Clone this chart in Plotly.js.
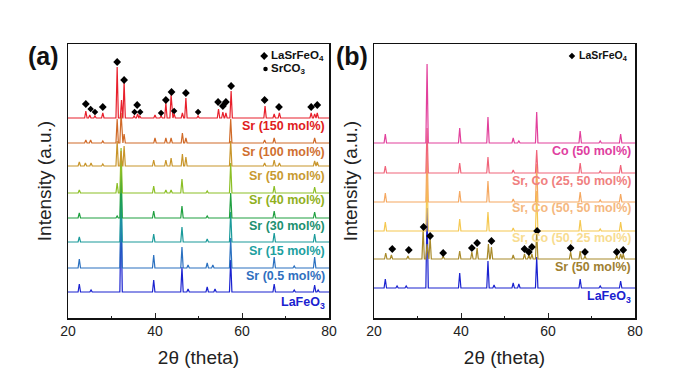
<!DOCTYPE html>
<html><head><meta charset="utf-8">
<script src="https://cdn.plot.ly/plotly-3.0.1.min.js"></script>
<style>html,body{margin:0;padding:0;background:#fff}#c{width:690px;height:384px}</style>
</head><body><div id="c"></div>
<script>
// ---------- Panel (a) data: peak positions (2θ) and heights, per sample ----------
const namesA = ["LaFeO<sub>3</sub>","Sr (0.5 mol%)","Sr (15 mol%)","Sr (30 mol%)","Sr (40 mol%)","Sr (50 mol%)","Sr (100 mol%)","Sr (150 mol%)"];
const offsetsA = [26, 50, 76, 100, 125, 152, 175, 200];
const colorsA = ["#1a22d0","#2a70c0","#1a9a9a","#1fa040","#8cbf26","#c8952a","#d06a28","#e8202c"];
const labelColorsA = ["#1a22d0","#3070c0","#20a0a0","#209070","#90b020","#c89a30","#d07030","#e02020"];
const labelYA = [15, 42, 67, 92, 118, 142, 166, 192];

const peaksA_LaFeO3 = [22.6,25.3,32.2,39.7,46.2,47.6,52.0,53.8,57.4,67.4,72.0,76.7,77.5];
const heightsA_LaFeO3 = [8,2,80,12,25,3,5,3,32,8,2,7,2];
const peaksA_Sr05 = [22.6,32.2,39.7,46.2,47.6,52.0,53.3,57.4,67.4,72.0,76.7];
const heightsA_Sr05 = [9,70,13,21,3,5,3,30,11,2,11];
const peaksA_Sr15 = [22.6,32.2,39.7,46.2,52.0,57.4,67.4,76.7];
const heightsA_Sr15 = [5,60,8,15,3,30,9,8];
const peaksA_Sr30 = [22.6,31.3,32.2,39.7,46.2,52.0,57.4,67.4,76.7];
const heightsA_Sr30 = [5,2,55,7,12,2,25,7,6];
const peaksA_Sr40 = [22.6,31.3,32.2,39.7,42.5,43.7,46.2,52.0,57.4,67.4,76.7];
const heightsA_Sr40 = [3,10,45,7,3,3,14,2,30,7,6];
const peaksA_Sr50 = [22.6,24.0,25.3,28.0,31.3,32.2,32.9,39.7,42.5,43.7,46.3,47.1,57.4,65.2,67.4,68.6,76.7,77.3];
const heightsA_Sr50 = [4,3,3,2,25,15,20,6,6,8,12,9,25,3,6,3,5,4];
const peaksA_Sr100 = [24.1,25.2,28.0,31.3,32.2,32.9,40.0,42.5,43.7,46.3,47.1,57.4,65.2,67.4,76.7];
const heightsA_Sr100 = [3,3,2,24,30,9,5,5,5,10,5,24,3,5,5];
const peaksA_Sr150 = [24.1,25.0,26.2,28.0,31.3,32.3,32.9,35.2,36.0,36.5,40.0,41.4,42.5,43.7,44.4,46.3,47.1,49.9,54.6,55.6,56.3,57.5,65.3,67.4,68.6,75.9,76.7,77.3];
const heightsA_Sr150 = [7,3,2,5,51,18,36,2,4,2,3,2,15,23,4,5,20,2,9,6,5,27,12,4,5,5,4,5];

const peakSetsA = [peaksA_LaFeO3,peaksA_Sr05,peaksA_Sr15,peaksA_Sr30,peaksA_Sr40,peaksA_Sr50,peaksA_Sr100,peaksA_Sr150];
const heightSetsA = [heightsA_LaFeO3,heightsA_Sr05,heightsA_Sr15,heightsA_Sr30,heightsA_Sr40,heightsA_Sr50,heightsA_Sr100,heightsA_Sr150];

// phase markers, panel (a)
const lsfoA_x = [24.1,28.0,31.3,32.9,35.9,42.5,43.8,47.1,54.5,55.6,56.3,57.5,65.2,68.5,75.9,77.3];
const lsfoA_y = [214,211,256,238,213,218,226,225,216,212,216,232,218,211,211,213];
const srco3A_x = [25.2,26.2,35.3,36.6,41.4,44.4,49.9];
const srco3A_y = [209,206,206,206,205,207,206];

// ---------- Panel (b) data ----------
const namesB = ["LaFeO<sub>3</sub>","Sr (50 mol%)","Sr, Co (50, 25 mol%)","Sr, Co (50, 50 mol%)","Sr, Co (25, 50 mol%)","Co (50 mol%)"];
const offsetsB = [30, 59, 87, 116, 145, 175];
const colorsB = ["#1a22d0","#a88a2a","#f5c850","#f5a860","#f0647a","#e2409c"];
const labelColorsB = ["#1a22d0","#a08030","#f8dc90","#f5b880","#f08080","#e040a0"];
const labelYB = [21, 51, 80, 110, 137, 167];

const peaksB_LaFeO3 = [22.6,25.3,27.4,32.2,39.7,46.2,47.6,52.0,53.3,57.4,67.4,72.0,76.7];
const heightsB_LaFeO3 = [9,2,2,80,15,27,3,5,4,31,9,2,7];
const peaksB_Sr50 = [22.7,24.0,27.8,31.3,32.2,32.9,35.9,39.7,42.5,43.7,46.3,47.0,52.0,54.6,55.6,56.3,57.4,65.2,67.4,68.5,75.8,76.7,77.3];
const heightsB_Sr50 = [6,4,3,30,15,22,3,8,7,11,15,12,4,5,4,5,28,7,8,3,4,5,5];
const peaksB_SrCo5025 = [22.6,32.2,39.7,46.2,52.0,57.4,67.4,72.0,76.7];
const heightsB_SrCo5025 = [9,60,12,19,3,40,11,2,9];
const peaksB_SrCo5050 = [22.6,32.2,39.7,46.2,52.0,57.4,67.4,72.0,76.7];
const heightsB_SrCo5050 = [9,55,11,21,3,38,10,2,8];
const peaksB_SrCo2550 = [22.6,32.2,39.7,46.2,52.0,57.4,67.4,72.0,76.7];
const heightsB_SrCo2550 = [7,45,10,16,3,23,10,2,8];
const peaksB_Co50 = [22.6,32.2,39.7,46.2,52.0,53.3,57.4,67.4,72.0,76.7];
const heightsB_Co50 = [9,79,15,26,5,2,31,12,2,9];

const peakSetsB = [peaksB_LaFeO3,peaksB_Sr50,peaksB_SrCo5025,peaksB_SrCo5050,peaksB_SrCo2550,peaksB_Co50];
const heightSetsB = [heightsB_LaFeO3,heightsB_Sr50,heightsB_SrCo5025,heightsB_SrCo5050,heightsB_SrCo2550,heightsB_Co50];

const lsfoB_x = [24.2,28.0,31.4,32.9,35.9,42.5,43.7,47.0,54.6,55.6,56.3,57.5,65.2,68.5,75.8,77.3];
const lsfoB_y = [69,68,91,82,65,70,75,77,69,66,71,87,70,66,66,68];

const tickVals = [20,40,60,80];

// ---------- build ----------
const HW = 0.28; // half width of peak foot (style)
function pattern(peaks, heights, base){
  const xs=[20], ys=[base];
  peaks.forEach((p,i)=>{ xs.push(p-HW,p,p+HW); ys.push(base,base+heights[i],base); });
  xs.push(80); ys.push(base);
  return {x:xs,y:ys};
}
const traces=[];
const annotations=[];
const font = "Arial, 'Liberation Sans', sans-serif";
peakSetsA.forEach((pk,i)=>{
  const d=pattern(pk,heightSetsA[i],offsetsA[i]);
  traces.push({type:'scatter',mode:'lines',x:d.x,y:d.y,xaxis:'x',yaxis:'y',line:{color:colorsA[i],width:1.2},hoverinfo:'skip',showlegend:false});
  annotations.push({xref:'x',yref:'y',x:79.6,y:labelYA[i],xanchor:'right',yanchor:'middle',showarrow:false,text:'<b>'+namesA[i]+'</b>',font:{family:font,size:12.5,color:labelColorsA[i]}});
});
peakSetsB.forEach((pk,i)=>{
  const d=pattern(pk,heightSetsB[i],offsetsB[i]);
  traces.push({type:'scatter',mode:'lines',x:d.x,y:d.y,xaxis:'x2',yaxis:'y2',line:{color:colorsB[i],width:1.2},hoverinfo:'skip',showlegend:false});
  annotations.push({xref:'x2',yref:'y2',x:79.6,y:labelYB[i],xanchor:'right',yanchor:'middle',showarrow:false,text:'<b>'+namesB[i]+'</b>',font:{family:font,size:12.5,color:labelColorsB[i]}});
});
traces.push({type:'scatter',mode:'markers',x:lsfoA_x,y:lsfoA_y,xaxis:'x',yaxis:'y',marker:{symbol:'diamond',size:6,color:'#000'},showlegend:false,hoverinfo:'skip'});
traces.push({type:'scatter',mode:'markers',x:srco3A_x,y:srco3A_y,xaxis:'x',yaxis:'y',marker:{symbol:'diamond',size:5,color:'#000'},showlegend:false,hoverinfo:'skip'});
traces.push({type:'scatter',mode:'markers',x:lsfoB_x,y:lsfoB_y,xaxis:'x2',yaxis:'y2',marker:{symbol:'diamond',size:6,color:'#000'},showlegend:false,hoverinfo:'skip'});
// legend keys
traces.push({type:'scatter',mode:'markers',x:[65.1],y:[262],xaxis:'x',yaxis:'y',marker:{symbol:'diamond',size:6,color:'#000'},showlegend:false,hoverinfo:'skip'});
traces.push({type:'scatter',mode:'markers',x:[65.4],y:[249],xaxis:'x',yaxis:'y',marker:{symbol:'circle',size:4.5,color:'#000'},showlegend:false,hoverinfo:'skip'});
traces.push({type:'scatter',mode:'markers',x:[65.5],y:[262],xaxis:'x2',yaxis:'y2',marker:{symbol:'diamond',size:5,color:'#000'},showlegend:false,hoverinfo:'skip'});
annotations.push({xref:'x',yref:'y',x:66.3,y:262,xanchor:'left',yanchor:'middle',showarrow:false,text:'<b>LaSrFeO<sub>4</sub></b>',font:{family:font,size:11.5,color:'#111'}});
annotations.push({xref:'x',yref:'y',x:66.3,y:249,xanchor:'left',yanchor:'middle',showarrow:false,text:'<b>SrCO<sub>3</sub></b>',font:{family:font,size:11.5,color:'#111'}});
annotations.push({xref:'x2',yref:'y2',x:66.6,y:262,xanchor:'left',yanchor:'middle',showarrow:false,text:'<b>LaSrFeO<sub>4</sub></b>',font:{family:font,size:10.5,color:'#111'}});
annotations.push({xref:'paper',yref:'paper',x:26/690,y:1-56/384,xanchor:'left',yanchor:'middle',showarrow:false,text:'<b>(a)</b>',font:{family:font,size:25,color:'#111'}});
annotations.push({xref:'paper',yref:'paper',x:334/690,y:1-56/384,xanchor:'left',yanchor:'middle',showarrow:false,text:'<b>(b)</b>',font:{family:font,size:25,color:'#111'}});

function xax(domain, anchor){
  return {domain:domain, anchor:anchor, range:[20,80], tickvals:tickVals, ticks:'inside', ticklen:5, tickwidth:1, tickcolor:'#222',
    minor:{dtick:10, tick0:20, ticks:'inside', ticklen:2, tickcolor:'#222'},
    showline:true, linecolor:'#111', linewidth:1.5, mirror:true, showgrid:false, zeroline:false,
    tickfont:{family:font,size:14,color:'#222'},
    title:{text:'2θ (theta)', font:{family:font,size:19,color:'#222'}, standoff:12}};
}
function yax(anchor){
  return {domain:[66/384, 340/384], anchor:anchor, range:[0,274], showticklabels:false, ticks:'', showgrid:false, zeroline:false,
    showline:true, linecolor:'#111', linewidth:1.5, mirror:true,
    title:{text:'Intensity (a.u.)', font:{family:font,size:19,color:'#222'}, standoff:10}};
}
const layout = {
  width:690, height:384, margin:{l:0,r:0,t:0,b:0}, paper_bgcolor:'#fff', plot_bgcolor:'#fff', showlegend:false,
  xaxis: xax([68/690, 329/690],'y'),
  yaxis: yax('x'),
  xaxis2: xax([374/690, 635/690],'y2'),
  yaxis2: yax('x2'),
  annotations: annotations
};
Plotly.newPlot('c', traces, layout, {staticPlot:true, displayModeBar:false});
</script></body></html>
